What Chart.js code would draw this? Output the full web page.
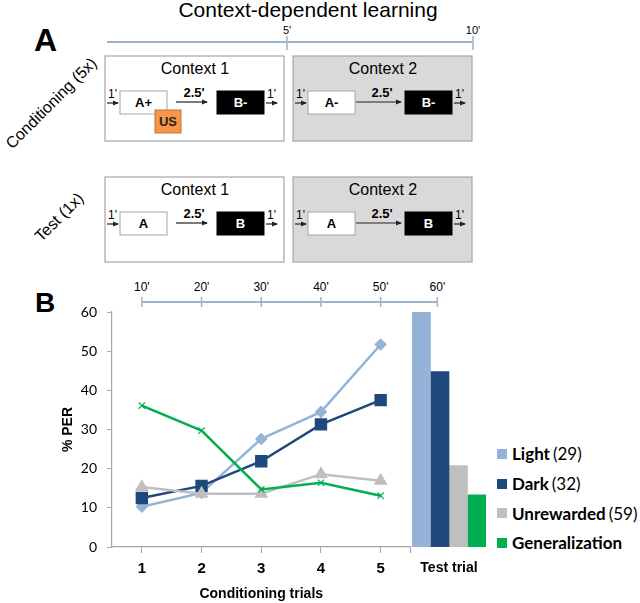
<!DOCTYPE html>
<html>
<head>
<meta charset="utf-8">
<script src="https://cdn.jsdelivr.net/npm/chart.js@4.4.1/dist/chart.umd.min.js"></script>
<style>
  body { margin: 0; background: #fff; }
  #page { position: relative; width: 640px; height: 603px; overflow: hidden; font-family: "Liberation Sans", Arial, sans-serif; }
  #diagram { position: absolute; left: 0; top: 0; }
  #lineChart { position: absolute; left: 0; top: 300px; }
  #barChart { position: absolute; left: 412px; top: 300px; }
  #legend { position: absolute; left: 497px; top: 439px; font-family: Lato, sans-serif; font-size: 17px; color: #000; }
  #legend .row { height: 29.7px; display: flex; align-items: center; white-space: nowrap; }
  #legend .sw { width: 10px; height: 10px; margin-right: 5px; }
  #legend b { margin-right: 3px; }
</style>
</head>
<body>
<div id="page">
<svg id="diagram" width="640" height="603" font-family="Liberation Sans, Arial, sans-serif">
  <defs>
    <marker id="ah" markerWidth="6" markerHeight="6" refX="5" refY="3" orient="auto" markerUnits="userSpaceOnUse">
      <path d="M0,0.5 L6,3 L0,5.5 z" fill="#222"/>
    </marker>
  </defs>
  <text x="308" y="17" font-size="21" text-anchor="middle">Context-dependent learning</text>
  <text x="34" y="51" font-size="32" font-weight="bold">A</text>
  <text x="35" y="312" font-size="28" font-weight="bold">B</text>
  <g id="timeA"></g>
  <g id="rows"></g>
  <text transform="translate(51,103) rotate(-45)" font-size="16" text-anchor="middle" dominant-baseline="central">Conditioning (5x)</text>
  <text transform="translate(59,217) rotate(-45)" font-size="16" text-anchor="middle" dominant-baseline="central">Test (1x)</text>
  <g id="timeB"></g>
</svg>
<canvas id="lineChart" width="420" height="303"></canvas>
<canvas id="barChart" width="74" height="303"></canvas>
<div id="legend"></div>
</div>

<script>
// conditioning trials (line chart)
const trials = ['1', '2', '3', '4', '5'];
const light = [10.3, 13.8, 27.6, 34.5, 51.7];
const dark = [12.5, 15.6, 21.9, 31.3, 37.5];
const unrewarded = [15.3, 13.6, 13.6, 18.6, 16.9];
const generalization = [36.1, 29.7, 14.7, 16.4, 13.1];

// test trial (bars), same group order
const groups = ['Light', 'Dark', 'Unrewarded', 'Generalization'];
const groupN = ['(29)', '(32)', '(59)', ''];
const testTrial = [60, 44.8, 20.8, 13.3];

const timeLabelsA = ["5'", "10'"];
const timeLabelsB = ["10'", "20'", "30'", "40'", "50'", "60'"];

const colors = ['#95b3d7', '#1f497d', '#bfbfbf', '#00b050'];
const axisGrey = '#a6a6a6';
const tlColor = '#9db4cc';

// ---- diagram (panel A + time lines) ----
const NS = 'http://www.w3.org/2000/svg';
function el(parent, tag, attrs, text) {
  const e = document.createElementNS(NS, tag);
  for (const k in attrs) e.setAttribute(k, attrs[k]);
  if (text !== undefined) e.textContent = text;
  parent.appendChild(e);
  return e;
}

const tA = document.getElementById('timeA');
el(tA, 'line', {x1: 107, y1: 42, x2: 473, y2: 42, stroke: tlColor, 'stroke-width': 2});
[287, 473].forEach((x, i) => {
  el(tA, 'line', {x1: x, y1: 36, x2: x, y2: 50, stroke: tlColor, 'stroke-width': 1.5});
  el(tA, 'text', {x: x, y: 34, 'font-size': 11, 'text-anchor': 'middle'}, timeLabelsA[i]);
});

const rows = document.getElementById('rows');
function arrow(g, x1, x2, y) {
  el(g, 'line', {x1: x1, y1: y, x2: x2, y2: y, stroke: '#222', 'stroke-width': 1.2, 'marker-end': 'url(#ah)'});
}
function stim(g, x, y, label, black) {
  el(g, 'rect', {x: x, y: y, width: 47, height: 23, fill: black ? '#000' : '#fff', stroke: black ? '#000' : '#a6a6a6'});
  el(g, 'text', {x: x + 23.5, y: y + 16, 'font-size': 13, 'font-weight': 'bold', 'text-anchor': 'middle', fill: black ? '#fff' : '#000'}, label);
}
function context(bx, by, name, grey, a, b, us) {
  const g = el(rows, 'g', {});
  el(g, 'rect', {x: bx, y: by, width: 179, height: 85, fill: grey ? '#d9d9d9' : '#fff', stroke: axisGrey, 'stroke-width': 1.2});
  el(g, 'text', {x: bx + 90, y: by + 18, 'font-size': 16, 'text-anchor': 'middle'}, name);
  el(g, 'text', {x: bx + 3, y: by + 42, 'font-size': 12}, "1'");
  arrow(g, bx + 2, bx + 13, by + 47);
  stim(g, bx + 15, by + 35, a, false);
  if (us) {
    el(g, 'rect', {x: bx + 50, y: by + 54, width: 26, height: 23, fill: '#f79646', stroke: '#c0763a'});
    el(g, 'text', {x: bx + 63, y: by + 70, 'font-size': 13, 'font-weight': 'bold', 'text-anchor': 'middle', fill: '#222'}, 'US');
  }
  el(g, 'text', {x: bx + 89, y: by + 41, 'font-size': 13, 'font-weight': 'bold', 'text-anchor': 'middle'}, "2.5'");
  if (grey) arrow(g, bx + 63, bx + 108, by + 46);
  else arrow(g, bx + 71, bx + 102, by + 46);
  stim(g, bx + 112, by + 35, b, true);
  el(g, 'text', {x: bx + 162, y: by + 42, 'font-size': 12}, "1'");
  arrow(g, bx + 161, bx + 172, by + 47);
}
context(105, 56, 'Context 1', false, 'A+', 'B-', true);
context(293, 56, 'Context 2', true, 'A-', 'B-', false);
context(105, 177, 'Context 1', false, 'A', 'B', false);
context(293, 177, 'Context 2', true, 'A', 'B', false);

// ---- panel B: conditioning trials ----
const tickFont = {family: 'Lato', size: 14};
const boldFont = {family: 'Liberation Sans', size: 14, weight: 'bold'};

const lineChart = new Chart(document.getElementById('lineChart'), {
  type: 'line',
  data: {
    labels: trials,
    datasets: [
      {label: groups[0], data: light, pointStyle: 'rectRot', pointRadius: 4.5, order: 4},
      {label: groups[1], data: dark, pointStyle: 'rect', pointRadius: 7, order: 3},
      {label: groups[2], data: unrewarded, pointStyle: 'triangle', pointRadius: 5.5, order: 2},
      {label: groups[3], data: generalization, pointStyle: 'crossRot', pointRadius: 4.5, pointBorderWidth: 1.2, order: 1}
    ].map((d, i) => Object.assign({
      borderColor: colors[i],
      backgroundColor: colors[i],
      pointBackgroundColor: colors[i],
      pointBorderColor: colors[i],
      borderWidth: 2.5,
      tension: 0
    }, d))
  },
  options: {
    responsive: false,
    animation: false,
    layout: {padding: {top: 12, right: 8, left: 0, bottom: 0}},
    plugins: {legend: {display: false}, tooltip: {enabled: false}},
    scales: {
      x: {
        offset: true,
        grid: {display: true, drawOnChartArea: false, drawTicks: true, tickLength: 6, color: axisGrey, offset: false},
        border: {display: true, color: axisGrey, width: 1.2},
        ticks: {font: {family: 'Liberation Sans', size: 15, weight: 'bold'}, color: '#000', padding: 7},
        title: {display: true, text: 'Conditioning trials', font: boldFont, color: '#000', padding: {top: 4, bottom: 0}},
        afterFit: s => { s.height = 56; }
      },
      y: {
        min: 0,
        max: 60,
        ticks: {stepSize: 10, font: tickFont, color: '#000', padding: 10},
        grid: {display: true, drawOnChartArea: false, drawTicks: true, tickLength: 5, color: axisGrey},
        border: {display: true, color: axisGrey, width: 1.2},
        title: {display: true, text: '% PER', font: boldFont, color: '#000', padding: {top: 60, bottom: 0}},
        afterFit: s => { s.width = 112; s.paddingTop = 0; s.paddingBottom = 0; }
      }
    }
  }
});

// ---- panel B: test trial bars ----
const barChart = new Chart(document.getElementById('barChart'), {
  type: 'bar',
  data: {
    labels: ['Test trial'],
    datasets: groups.map((g, i) => ({
      label: g,
      data: [testTrial[i]],
      backgroundColor: colors[i],
      categoryPercentage: 1,
      barPercentage: 1
    }))
  },
  options: {
    responsive: false,
    animation: false,
    layout: {padding: {top: 12, right: 0, left: 0, bottom: 0}},
    plugins: {legend: {display: false}, tooltip: {enabled: false}},
    scales: {
      x: {
        grid: {display: false},
        border: {display: false},
        ticks: {font: boldFont, color: '#000', padding: 5},
        afterFit: s => { s.height = 56; s.paddingLeft = 0; s.paddingRight = 0; }
      },
      y: {display: false, min: 0, max: 60}
    }
  }
});

// time line over panel B, ticks placed from the chart's own x scale
const tB = document.getElementById('timeB');
const xs = lineChart.scales.x;
const tickX = trials.map((t, i) => xs.getPixelForValue(i));
tickX.push(tickX[4] + (tickX[4] - tickX[3]) * 0.95);
el(tB, 'line', {x1: tickX[0], y1: 302, x2: tickX[5], y2: 302, stroke: tlColor, 'stroke-width': 2});
tickX.forEach((x, i) => {
  el(tB, 'line', {x1: x, y1: 297, x2: x, y2: 307, stroke: tlColor, 'stroke-width': 1.5});
  el(tB, 'text', {x: x, y: 291, 'font-size': 12, 'text-anchor': 'middle'}, timeLabelsB[i]);
});
// small closing tick at the end of the trial axis, as in the original
el(tB, 'line', {x1: xs.right, y1: xs.top, x2: xs.right, y2: xs.top + 6, stroke: axisGrey, 'stroke-width': 1.2, transform: 'translate(0,300)'});

// legend
const legend = document.getElementById('legend');
barChart.data.datasets.forEach((d, i) => {
  const row = document.createElement('div');
  row.className = 'row';
  row.innerHTML = '<span class="sw" style="background:' + d.backgroundColor + '"></span><b>' + d.label + '</b>' + groupN[i];
  legend.appendChild(row);
});
</script>
</body>
</html>
